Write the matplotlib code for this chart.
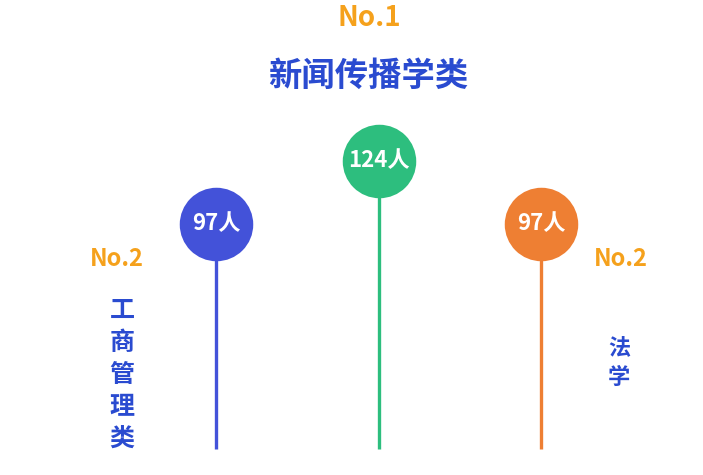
import matplotlib
matplotlib.use("Agg")
import matplotlib.pyplot as plt

categories = ["工商管理类", "新闻传播学类", "法学"]
values = [97, 124, 97]
value_labels = ["97人", "124人", "97人"]
ranks = ["No.2", "No.1", "No.2"]
colors = ["#4352D9", "#2DBE7E", "#EE7F33"]

plt.rcParams['font.family'] = ['Noto Sans CJK SC', 'DejaVu Sans']

W, H = 703, 475
fig = plt.figure(figsize=(W / 100, H / 100), dpi=100)
ax = fig.add_axes([0, 0, 1, 1])
ax.set_axis_off()

px_per_unit_x = 162.5
x0_px = 216
ax.set_xlim(-x0_px / px_per_unit_x, 2 + (W - 541) / px_per_unit_x)
dpp = 124 / 288.0
ax.set_ylim(-(H - 449) * dpp, 449 * dpp)

xs = list(range(len(values)))
for x, v, c, lab in zip(xs, values, colors, value_labels):
    ax.plot([x, x], [0, v], color=c, lw=2.4, solid_capstyle='butt', zorder=1)
    ax.scatter([x], [v], s=2800, color=c, zorder=2, linewidths=0)
    ax.text(x, v, lab, color='white', fontsize=16, fontweight='bold',
            ha='center', va='center', zorder=3)

def ftext(xp, yp, s, **kw):
    fig.text(xp / W, 1 - yp / H, s, **kw)

orange = "#F5A11C"
blue = "#2A4BD0"
ftext(369, 18, ranks[1], color=orange, fontsize=20, fontweight='bold', ha='center', va='center')
ftext(368, 76, categories[1], color=blue, fontsize=24, fontweight='bold', ha='center', va='center')
ftext(117, 259, ranks[0], color=orange, fontsize=17, fontweight='bold', ha='center', va='center')
ftext(621, 259, ranks[2], color=orange, fontsize=17, fontweight='bold', ha='center', va='center')
ftext(122, 375, "\n".join(categories[0]), color=blue, fontsize=18, fontweight='bold',
      ha='center', va='center', linespacing=1.42)
ftext(619, 363, "\n".join(categories[2]), color=blue, fontsize=16, fontweight='bold',
      ha='center', va='center', linespacing=1.35)

fig.savefig("out.png", dpi=100)
